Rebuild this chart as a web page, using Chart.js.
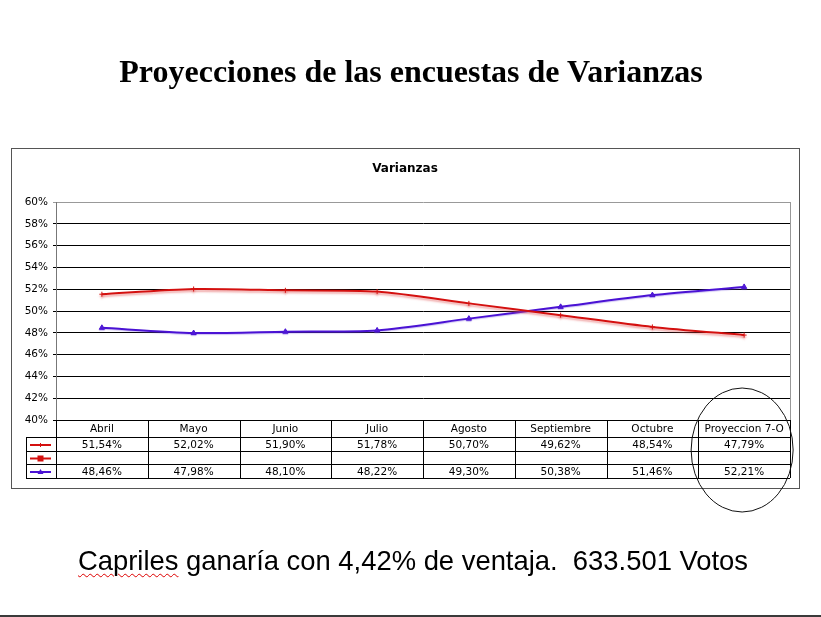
<!DOCTYPE html>
<html>
<head>
<meta charset="utf-8">
<title>Proyecciones de las encuestas de Varianzas</title>
<script src="https://cdn.jsdelivr.net/npm/chart.js@4.4.1/dist/chart.umd.min.js"></script>
<style>
    html, body { margin: 0; padding: 0; background: #fff; }
    #page { position: relative; width: 821px; height: 617px; overflow: hidden; }
    #chartVarianzas { position: absolute; left: 0; top: 0; }
    .pageTitle {
        position: absolute; left: 0; width: 822px; top: 53px; text-align: center;
        font-family: "Liberation Serif", "Times New Roman", serif; font-weight: bold; font-size: 32px;
    }
    .pageNote {
        position: absolute; left: 78px; top: 545px; white-space: pre;
        font-family: "Liberation Sans", Arial, sans-serif; font-size: 27.4px;
    }
    .spell { text-decoration: underline wavy #d00; text-decoration-thickness: 1px; text-underline-offset: 3px; }
    .pageEdge { position: absolute; left: 0; top: 615px; width: 821px; height: 2px; background: #3a3a3a; }
</style>
</head>
<body>
<div id="page">
    <canvas id="chartVarianzas" width="821" height="617"></canvas>
    <div class="pageTitle">Proyecciones de las encuestas de Varianzas</div>
    <div class="pageNote"><span class="spell">Capriles</span> ganaría con 4,42% de ventaja.  633.501 Votos</div>
    <div class="pageEdge"></div>
</div>
<script>
var meses = ['Abril', 'Mayo', 'Junio', 'Julio', 'Agosto', 'Septiembre', 'Octubre', 'Proyeccion 7-O'];
var serieRoja = [51.54, 52.02, 51.90, 51.78, 50.70, 49.62, 48.54, 47.79];
var serieVacia = [null, null, null, null, null, null, null, null];
var serieAzul = [48.46, 47.98, 48.10, 48.22, 49.30, 50.38, 51.46, 52.21];

var colorRojo = '#d4100f';
var colorAzul = '#4a12d4';
var fuente = '"DejaVu Sans", Verdana, sans-serif';

function formatPct(v) {
    return v.toFixed(2).replace('.', ',') + '%';
}

// red line in the original has a soft pink shadow under it
var shadowPlugin = {
    id: 'lineShadow',
    beforeDatasetDraw: function (chart, args) {
        var ctx = chart.ctx;
        ctx.save();
        if (args.index === 0) {
            ctx.shadowColor = 'rgba(225, 80, 80, 0.5)';
            ctx.shadowOffsetY = 2;
            ctx.shadowBlur = 2;
        } else if (args.index === 2) {
            ctx.shadowColor = 'rgba(120, 90, 220, 0.35)';
            ctx.shadowOffsetY = 1;
            ctx.shadowBlur = 1;
        }
    },
    afterDatasetDraw: function (chart) {
        chart.ctx.restore();
    }
};

function drawLegendKey(ctx, x1, x2, y, color, style) {
    ctx.strokeStyle = color;
    ctx.fillStyle = color;
    ctx.lineWidth = 2;
    ctx.beginPath();
    ctx.moveTo(x1, y);
    ctx.lineTo(x2, y);
    ctx.stroke();
    var cx = (x1 + x2) / 2;
    if (style === 'rect') {
        ctx.fillRect(cx - 3, y - 3, 6, 6);
    } else if (style === 'triangle') {
        ctx.beginPath();
        ctx.moveTo(cx, y - 3);
        ctx.lineTo(cx + 3, y + 2);
        ctx.lineTo(cx - 3, y + 2);
        ctx.closePath();
        ctx.fill();
    } else {
        ctx.lineWidth = 1;
        ctx.beginPath();
        ctx.moveTo(cx, y - 2);
        ctx.lineTo(cx, y + 2);
        ctx.stroke();
    }
}

var tablePlugin = {
    id: 'dataTable',
    afterDraw: function (chart) {
        var ctx = chart.ctx;
        var area = chart.chartArea;
        var xScale = chart.scales.x;
        var step = (area.right - area.left) / meses.length;
        var top = area.bottom;
        var rows = [top + 17, top + 31, top + 44, top + 58];
        var legendLeft = 26;

        ctx.save();

        // outer frame of the chart object
        ctx.strokeStyle = '#555';
        ctx.lineWidth = 1;
        ctx.strokeRect(11.5, 148.5, 788, 340);

        // right border of plot area
        ctx.strokeStyle = '#999';
        ctx.beginPath();
        ctx.moveTo(Math.round(area.right) + 0.5, area.top);
        ctx.lineTo(Math.round(area.right) + 0.5, area.bottom);
        ctx.stroke();

        // chart title
        ctx.fillStyle = '#000';
        ctx.font = 'bold 12px ' + fuente;
        ctx.textAlign = 'center';
        ctx.textBaseline = 'middle';
        ctx.fillText('Varianzas', 405, 169);

        // grid of the table
        ctx.strokeStyle = '#000';
        ctx.lineWidth = 1;
        ctx.beginPath();
        ctx.moveTo(area.left, Math.round(top) + 0.5);
        ctx.lineTo(area.right, Math.round(top) + 0.5);
        for (var r = 0; r < rows.length; r++) {
            ctx.moveTo(legendLeft, rows[r] + 0.5);
            ctx.lineTo(area.right, rows[r] + 0.5);
        }
        ctx.moveTo(legendLeft + 0.5, rows[0]);
        ctx.lineTo(legendLeft + 0.5, rows[3]);
        for (var c = 0; c <= meses.length; c++) {
            var vx = Math.round(area.left + c * step) + 0.5;
            ctx.moveTo(vx, top);
            ctx.lineTo(vx, rows[3]);
        }
        ctx.stroke();

        // text cells
        ctx.font = '10.5px ' + fuente;
        ctx.fillStyle = '#000';
        for (var i = 0; i < meses.length; i++) {
            var cx = xScale.getPixelForValue(i);
            ctx.fillText(meses[i], cx, (top + rows[0]) / 2 + 1);
            ctx.fillText(formatPct(serieRoja[i]), cx, (rows[0] + rows[1]) / 2 + 1);
            if (serieVacia[i] !== null) {
                ctx.fillText(formatPct(serieVacia[i]), cx, (rows[1] + rows[2]) / 2 + 1);
            }
            ctx.fillText(formatPct(serieAzul[i]), cx, (rows[2] + rows[3]) / 2 + 1);
        }

        // legend keys in the first column
        drawLegendKey(ctx, 30, 51, (rows[0] + rows[1]) / 2 + 1, colorRojo, 'cross');
        drawLegendKey(ctx, 30, 51, (rows[1] + rows[2]) / 2 + 1, colorRojo, 'rect');
        drawLegendKey(ctx, 30, 51, (rows[2] + rows[3]) / 2 + 1, colorAzul, 'triangle');

        // hand-drawn circle round the projection column
        ctx.strokeStyle = '#111';
        ctx.lineWidth = 1;
        ctx.beginPath();
        ctx.ellipse(xScale.getPixelForValue(meses.length - 1) - 2, 450, 51, 62, 0, 0, Math.PI * 2);
        ctx.stroke();

        ctx.restore();
    }
};

var canvas = document.querySelector('#chartVarianzas').getContext('2d');

var chartVarianzas = new Chart(canvas, {
    type: 'line',
    data: {
        labels: meses,
        datasets: [{
            label: 'Serie 1',
            data: serieRoja,
            borderColor: colorRojo,
            backgroundColor: colorRojo,
            borderWidth: 2,
            tension: 0.25,
            pointStyle: 'cross',
            pointRadius: 2.5,
            pointBorderWidth: 1
        }, {
            label: 'Serie 2',
            data: serieVacia,
            borderColor: colorRojo,
            backgroundColor: colorRojo,
            pointStyle: 'rect'
        }, {
            label: 'Serie 3',
            data: serieAzul,
            borderColor: colorAzul,
            backgroundColor: colorAzul,
            borderWidth: 2,
            tension: 0.25,
            pointStyle: 'triangle',
            pointRadius: 3,
            pointBorderWidth: 1
        }]
    },
    options: {
        responsive: false,
        animation: false,
        devicePixelRatio: 1,
        layout: {
            padding: { left: 0, top: 202, right: 31, bottom: 197 }
        },
        plugins: {
            legend: { display: false },
            tooltip: { enabled: false },
            title: { display: false }
        },
        scales: {
            x: {
                display: false,
                offset: true
            },
            y: {
                min: 40,
                max: 60,
                ticks: {
                    stepSize: 2,
                    padding: 5,
                    color: '#000',
                    font: { family: fuente, size: 10.5 },
                    callback: function (v) { return v + '%'; }
                },
                grid: {
                    color: function (c) { return c.tick && c.tick.value === 60 ? '#999' : '#000'; },
                    tickLength: 3,
                    lineWidth: 1
                },
                border: { color: '#777' },
                afterFit: function (scale) { scale.width = 56; }
            }
        }
    },
    plugins: [shadowPlugin, tablePlugin]
});
</script>
</body>
</html>
